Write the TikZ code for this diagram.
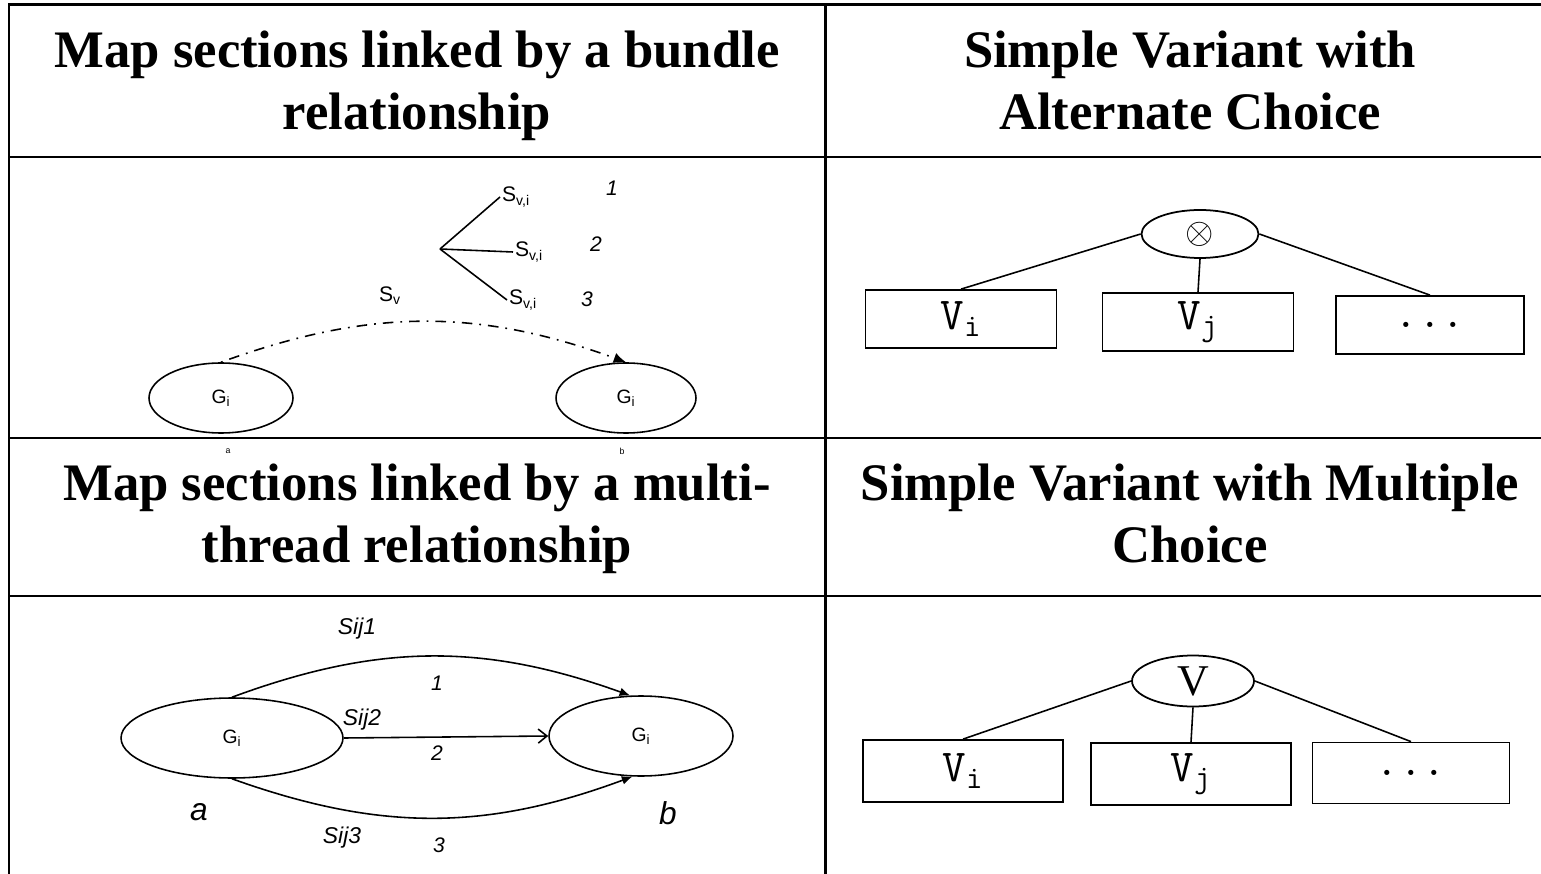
\documentclass[tikz,border=0pt]{standalone}
\usepackage{fontspec}
\setmainfont{Liberation Serif}
\setsansfont{Liberation Sans}
\usepackage{tikz}
\usetikzlibrary{arrows.meta,positioning,shapes.geometric}
\tikzset{
  grid-rule/.style={line width=1.7pt, line cap=rect},
  cell-title/.style={align=center, font=\bfseries\fontsize{30}{35.3}\selectfont, inner sep=0pt},
  goal-node/.style={draw, ellipse, line width=0.9pt, inner sep=0pt,
    font=\sffamily\fontsize{11}{11}\selectfont},
  path-label/.style={font=\sffamily\itshape\fontsize{12}{12}\selectfont, inner sep=1pt},
  section-label/.style={font=\sffamily\fontsize{12}{12}\selectfont, inner sep=1pt},
  stray-label/.style={font=\sffamily\fontsize{5}{5}\selectfont, inner sep=0pt},
  variant-box/.style={draw, rectangle, line width=1pt, inner sep=0pt,
    font=\ttfamily\fontsize{26}{26}\selectfont},
  variant-op/.style={draw, ellipse, line width=1pt, inner sep=0pt},
  link/.style={line width=0.9pt}
}

\begin{document}
\begin{tikzpicture}[x=0.02cm, y=-0.02cm, >=Latex]
  \useasboundingbox (0,0) rectangle (1541,874);
  % table rules
  \draw[grid-rule] (9,874) -- (9,5) -- (1541,5);
  \draw[grid-rule] (825,5) -- (825,874);
  \foreach \y in {157,438,596}
    \draw[grid-rule] (9,\y) -- (1541,\y);
  % titles
  \node[cell-title] (t-bundle) at (417,86) {\strut Map sections linked by a bundle\\\strut relationship};
  \node[cell-title] (t-alt) at (1190,86) {\strut Simple Variant with\\\strut Alternate Choice};
  \node[cell-title] (t-multi) at (417,519) {\strut Map sections linked by a multi-\\\strut thread relationship};
  \node[cell-title] (t-mult) at (1190,519) {\strut Simple Variant with Multiple\\\strut Choice};
  \node[stray-label] (stray-a) at (228,451) {a};
  \node[stray-label] (stray-b) at (622,451) {b};

  % bundle relationship
  \node[goal-node, minimum width=2.88cm, minimum height=1.4cm] (gl) at (221,398) {G\textsubscript{i}};
  \node[goal-node, minimum width=2.8cm, minimum height=1.4cm] (gr) at (626,398) {G\textsubscript{i}};
  \draw[link, dash pattern=on 1pt off 4pt on 6pt off 4pt, -{Latex[length=7pt,width=6pt]}]
    (gl.north) to[bend left=20] (gr.north);
  \coordinate (fan) at (440,249);
  \node[section-label, anchor=west] (s1) at (500,197) {S\textsubscript{v,i}};
  \node[section-label, anchor=west] (s2) at (513,252) {S\textsubscript{v,i}};
  \node[section-label, anchor=west] (s3) at (507,300) {S\textsubscript{v,i}};
  \draw[link] (fan) -- (s1.west);
  \draw[link] (fan) -- (s2.west);
  \draw[link] (fan) -- (s3.west);
  \node[section-label] (sv) at (390,296) {S\textsubscript{v}};
  \node[path-label] (n1) at (612,188) {1};
  \node[path-label] (n2) at (596,244) {2};
  \node[path-label] (n3) at (587,299) {3};

  % alternate choice
  \node[variant-op, minimum width=2.34cm, minimum height=0.96cm] (alt) at (1200,234)
    {\fontsize{20}{20}\selectfont$\otimes$};
  \node[variant-box, minimum width=3.82cm, minimum height=1.16cm] (a1) at (961,319) {V\textsubscript{i}};
  \node[variant-box, minimum width=3.82cm, minimum height=1.16cm] (a2) at (1198,322) {V\textsubscript{j}};
  \node[variant-box, minimum width=3.76cm, minimum height=1.16cm] (a3) at (1430,325) {...};
  \draw[link] (alt.west) -- (a1.north);
  \draw[link] (alt.south) -- (a2.north);
  \draw[link] (alt.east) -- (a3.north);

  % multi-thread relationship
  \node[goal-node, minimum width=4.44cm, minimum height=1.6cm] (ga) at (232,738) {G\textsubscript{i}};
  \node[goal-node, minimum width=3.68cm, minimum height=1.6cm] (gb) at (641,736) {G\textsubscript{i}};
  \draw[link, -{Latex[length=6pt,width=5pt]}] (ga.north) to[bend left=20] (gb.105);
  \draw[link, -{Straight Barb[length=5pt,width=8pt]}] (ga.east) -- (gb.west);
  \draw[link, -{Latex[length=6pt,width=5pt]}] (ga.south) to[bend right=20] (gb.258);
  \node[path-label, font=\sffamily\itshape\fontsize{13}{13}\selectfont] (sij1) at (357,629) {Sij1};
  \node[path-label, font=\sffamily\itshape\fontsize{13}{13}\selectfont] (sij2) at (362,720) {Sij2};
  \node[path-label, font=\sffamily\itshape\fontsize{13}{13}\selectfont] (sij3) at (342,838) {Sij3};
  \node[path-label] (m1) at (437,683) {1};
  \node[path-label] (m2) at (437,753) {2};
  \node[path-label] (m3) at (439,845) {3};
  \node[path-label, font=\sffamily\itshape\fontsize{18}{18}\selectfont] (la) at (199,812) {a};
  \node[path-label, font=\sffamily\itshape\fontsize{18}{18}\selectfont] (lb) at (668,813) {b};

  % multiple choice
  \node[variant-op, minimum width=2.44cm, minimum height=1.02cm,
    font=\fontsize{25}{25}\selectfont] (mul) at (1193,681) {V};
  \node[variant-box, minimum width=4.0cm, minimum height=1.24cm] (b1) at (963,771) {V\textsubscript{i}};
  \node[variant-box, minimum width=4.0cm, minimum height=1.24cm] (b2) at (1191,774) {V\textsubscript{j}};
  \node[variant-box, minimum width=3.94cm, minimum height=1.22cm] (b3) at (1411,773) {...};
  \draw[link] (mul.west) -- (b1.north);
  \draw[link] (mul.south) -- (b2.north);
  \draw[link] (mul.east) -- (b3.north);
\end{tikzpicture}
\end{document}
